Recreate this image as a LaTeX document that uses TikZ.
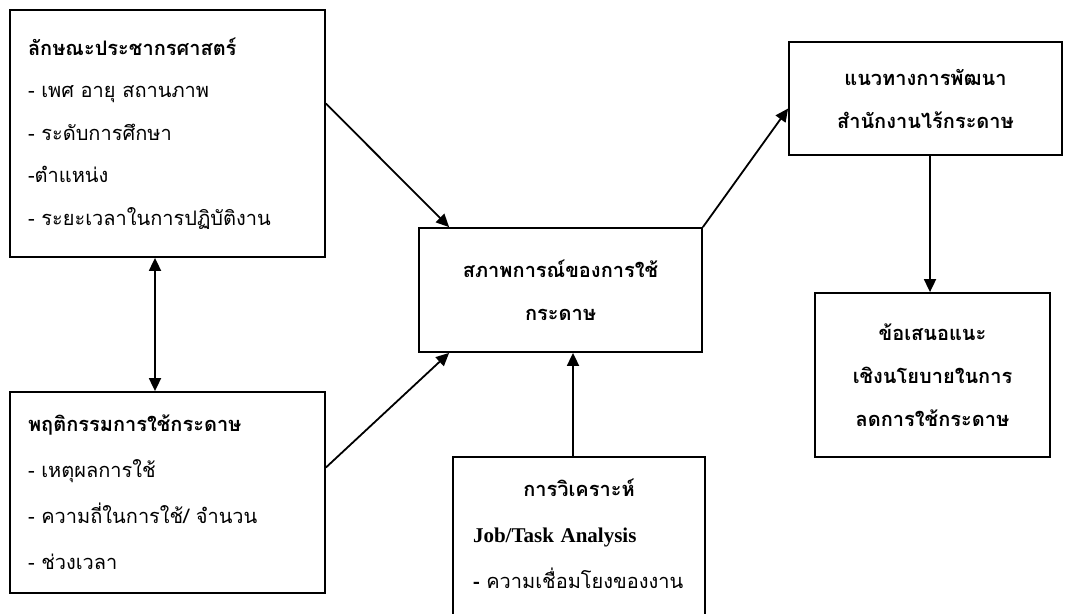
\documentclass[tikz,border=0pt]{standalone}
\usepackage{fontspec}
\newfontfamily\thaifont[Script=Thai]{Loma}
\newfontfamily\latinfont{Liberation Serif}
\usetikzlibrary{arrows.meta}

\begin{document}
\begin{tikzpicture}[x=1pt,y=-1pt,>={Triangle[length=13pt,width=12pt]},line width=1.8pt]
\tikzstyle{every node}=[draw,rectangle,inner sep=0pt,line width=1.8pt]
\tikzstyle{listbox}=[align=left,text width=279pt,inner xsep=18pt,minimum height=247pt]
\tikzstyle{titlebox}=[align=center,font=\thaifont\bfseries\fontsize{20}{43}\selectfont]
\useasboundingbox (0,0) rectangle (1067,613);
\node[listbox,font=\thaifont\fontsize{20}{42.5}\selectfont] (demo) at (167.5,133.5) {\textbf{ลักษณะประชากรศาสตร์}\\-~เพศ อายุ สถานภาพ\\-~ระดับการศึกษา\\-ตำแหน่ง\\-~ระยะเวลาในการปฏิบัติงาน\\[5pt]};
\node[listbox,minimum height=201pt,font=\thaifont\fontsize{20}{46}\selectfont] (behav) at (167.5,492.5) {\textbf{พฤติกรรมการใช้กระดาษ}\\-~เหตุผลการใช้\\-~ความถี่ในการใช้/ จำนวน\\-~ช่วงเวลา};
\node[titlebox,minimum width=283pt,minimum height=124pt] (state) at (560.5,290) {สภาพการณ์ของการใช้\\กระดาษ};
\node[align=left,text width=212pt,inner xsep=20pt,inner ysep=22pt,anchor=north,font=\thaifont\fontsize{20}{46}\selectfont] (task) at (579,456) {\hfill\textbf{การวิเคราะห์}\hfill\null\\{\latinfont\bfseries\fontsize{21}{46}\selectfont Job/Task Analysis}\\\textbf{-}~ความเชื่อมโยงของงาน\\\null};
\node[titlebox,minimum width=273pt,minimum height=113pt] (guide) at (925.5,98.5) {แนวทางการพัฒนา\\สำนักงานไร้กระดาษ};
\node[titlebox,minimum width=235pt,minimum height=164pt] (policy) at (932.5,375) {ข้อเสนอแนะ\\เชิงนโยบายในการ\\ลดการใช้กระดาษ};
\draw[<->] ([xshift=-12.5pt]demo.south) -- ([xshift=-12.5pt]behav.north);
\draw[->] ([yshift=30pt]demo.east) -- ([xshift=31pt]state.north west);
\draw[->] ([yshift=25pt]behav.east) -- ([xshift=31pt]state.south west);
\draw[->] ([xshift=-6pt]task.north) -- ([xshift=-6pt]task.north |- state.south);
\draw[->] (state.north east) -- ([yshift=-10pt]guide.west);
\draw[->] ([xshift=4.5pt]guide.south) -- ([xshift=4.5pt]guide.south |- policy.north);
\end{tikzpicture}
\end{document}
